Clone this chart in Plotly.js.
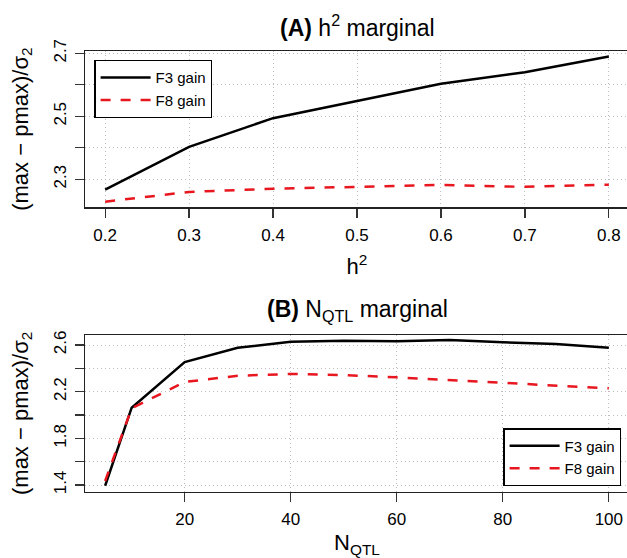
<!DOCTYPE html>
<html>
<head>
<meta charset="utf-8">
<script src="https://cdn.plot.ly/plotly-3.0.1.min.js"></script>
<style>
html, body { margin: 0; padding: 0; overflow: hidden; background: #fff; }
#chart { width: 630px; height: 558px; }
</style>
</head>
<body>
<div id="chart"></div>
<script>
// Panel A: h^2 marginal
const h2 = [0.2, 0.3, 0.4, 0.5, 0.6, 0.7, 0.8];
const h2F3 = [2.267, 2.403, 2.494, 2.549, 2.603, 2.640, 2.690];
const h2F8 = [2.229, 2.260, 2.270, 2.276, 2.282, 2.276, 2.283];

// Panel B: N_QTL marginal
const nqtl = [5, 10, 20, 30, 40, 50, 60, 70, 80, 90, 100];
const nqtlF3 = [1.394, 2.063, 2.454, 2.577, 2.628, 2.637, 2.632, 2.643, 2.623, 2.609, 2.577];
const nqtlF8 = [1.435, 2.058, 2.283, 2.337, 2.352, 2.343, 2.323, 2.300, 2.281, 2.257, 2.229];

// Tick labels
const h2Ticks = [0.2, 0.3, 0.4, 0.5, 0.6, 0.7, 0.8];
const h2TickText = ['0.2', '0.3', '0.4', '0.5', '0.6', '0.7', '0.8'];
const yATicks = [2.3, 2.5, 2.7];
const yATickText = ['2.3', '2.5', '2.7'];
const nqtlTicks = [20, 40, 60, 80, 100];
const nqtlTickText = ['20', '40', '60', '80', '100'];
const yBTicks = [1.4, 1.8, 2.2, 2.6];
const yBTickText = ['1.4', '1.8', '2.2', '2.6'];

const seriesNames = ['F3 gain', 'F8 gain'];
const FONT = 'Liberation Sans, Arial, Helvetica, sans-serif';
const RED = '#e8161e';

const traces = [
  {x: h2, y: h2F3, name: seriesNames[0], mode: 'lines', xaxis: 'x', yaxis: 'y', legend: 'legend',
   line: {color: '#000000', width: 2.5}},
  {x: h2, y: h2F8, name: seriesNames[1], mode: 'lines', xaxis: 'x', yaxis: 'y', legend: 'legend',
   line: {color: RED, width: 2.5, dash: '10px,10px'}},
  {x: nqtl, y: nqtlF3, name: seriesNames[0], mode: 'lines', xaxis: 'x2', yaxis: 'y2', legend: 'legend2',
   line: {color: '#000000', width: 2.5}},
  {x: nqtl, y: nqtlF8, name: seriesNames[1], mode: 'lines', xaxis: 'x2', yaxis: 'y2', legend: 'legend2',
   line: {color: RED, width: 2.5, dash: '10px,10px'}}
];

const W = 630, H = 558;
const xDom = [85 / W, 629 / W];
const GRID = '#bdbdbd';
const GDASH = '1px,3px';
const axisCommon = {
  showline: true, linecolor: '#222', linewidth: 1.3, mirror: true,
  ticks: 'outside', ticklen: 9, tickwidth: 1.3, tickcolor: '#333',
  showgrid: true, gridcolor: GRID, gridwidth: 1, griddash: GDASH,
  zeroline: false, tickmode: 'array', automargin: false,
  tickfont: {family: FONT, size: 17, color: '#000'}
};
function minorTicks(t0, dt) {
  return {tickmode: 'linear', tick0: t0, dtick: dt, ticks: 'outside', ticklen: 9,
          tickwidth: 1.3, tickcolor: '#333', showgrid: true, gridcolor: GRID,
          gridwidth: 1, griddash: GDASH};
}
const titleFont = {family: FONT, size: 22, color: '#000'};
const yTitleText = '(max \u2212 pmax)/\u03c3<sub>2</sub>';

const layout = {
  width: W, height: H,
  margin: {l: 0, r: 0, t: 0, b: 0},
  paper_bgcolor: '#fff', plot_bgcolor: '#fff',
  font: {family: FONT, color: '#000'},
  xaxis: Object.assign({}, axisCommon, {
    domain: xDom, anchor: 'y', range: [0.176, 0.824],
    tickvals: h2Ticks, ticktext: h2TickText, ticklabelstandoff: 3,
    title: {text: 'h<sup>2</sup>', font: titleFont, standoff: 14}
  }),
  yaxis: Object.assign({}, axisCommon, {
    domain: [1 - 207.3 / H, 1 - 51 / H], anchor: 'x', range: [2.2111, 2.7073],
    tickvals: yATicks, ticktext: yATickText, tickangle: -90, ticklabelstandoff: 2,
    minor: minorTicks(2.3, 0.1),
    title: {text: yTitleText, font: titleFont, standoff: 16}
  }),
  xaxis2: Object.assign({}, axisCommon, {
    domain: xDom, anchor: 'y2', range: [1.2, 103.8],
    tickvals: nqtlTicks, ticktext: nqtlTickText, ticklabelstandoff: 3,
    title: {text: 'N<sub>QTL</sub>', font: titleFont, standoff: 6}
  }),
  yaxis2: Object.assign({}, axisCommon, {
    domain: [1 - 491.7 / H, 1 - 335 / H], anchor: 'x2', range: [1.343, 2.686],
    tickvals: yBTicks, ticktext: yBTickText, tickangle: -90, ticklabelstandoff: 2,
    minor: minorTicks(1.4, 0.2),
    title: {text: yTitleText, font: titleFont, standoff: 16}
  }),
  showlegend: true,
  legend: {
    x: 94.3 / W, y: 1 - 60 / H, xanchor: 'left', yanchor: 'top', xref: 'paper', yref: 'paper',
    bgcolor: '#fff', bordercolor: '#000', borderwidth: 1.3,
    font: {family: FONT, size: 15, color: '#000'}, itemwidth: 50, tracegroupgap: 0
  },
  legend2: {
    x: 503.3 / W, y: 1 - 428.3 / H, xanchor: 'left', yanchor: 'top', xref: 'paper', yref: 'paper',
    bgcolor: '#fff', bordercolor: '#000', borderwidth: 1.3,
    font: {family: FONT, size: 15, color: '#000'}, itemwidth: 50, tracegroupgap: 0
  },
  annotations: [
    {text: '<b>(A)</b> h<sup>2</sup> marginal', xref: 'paper', yref: 'paper',
     x: 357 / W, y: 1 - 26 / H, xanchor: 'center', yanchor: 'middle', showarrow: false,
     font: {family: FONT, size: 23, color: '#000'}},
    {text: '<b>(B)</b> N<sub>QTL</sub> marginal', xref: 'paper', yref: 'paper',
     x: 357 / W, y: 1 - 310 / H, xanchor: 'center', yanchor: 'middle', showarrow: false,
     font: {family: FONT, size: 23, color: '#000'}}
  ]
};

Plotly.newPlot('chart', traces, layout, {displayModeBar: false, staticPlot: true});
</script>
</body>
</html>
